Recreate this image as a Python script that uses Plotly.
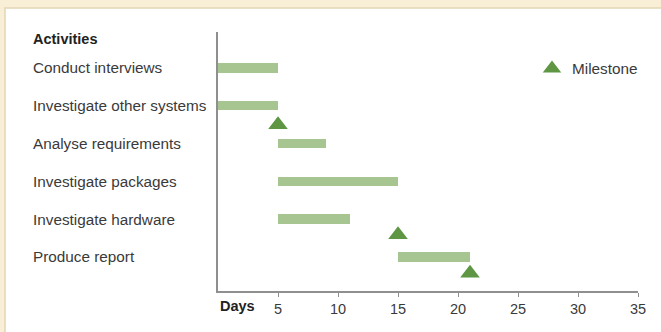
import plotly.graph_objects as go

activities = ["Conduct interviews", "Investigate other systems", "Analyse requirements",
              "Investigate packages", "Investigate hardware", "Produce report"]
start_day = [0, 0, 5, 5, 5, 15]
end_day = [5, 5, 9, 15, 11, 21]
duration = [e - s for s, e in zip(start_day, end_day)]
row_index = list(range(len(activities)))

milestone_day = [5, 15, 21]
milestone_row = [1.5, 4.41, 5.43]

x_tick_vals = [5, 10, 15, 20, 25, 30, 35]
x_tick_text = ["5", "10", "15", "20", "25", "30", "35"]

FONT = "Liberation Sans, Arial, Helvetica, sans-serif"
TXT = "#3a3a3a"
BAR = "#a6c590"
TRI = "#5e9644"

W, H = 661, 332
L, R, T, B = 218, 23, 32, 41
pw, ph = W - L - R, H - T - B

def px_to_paper_x(px):
    return (px - L) / pw

def px_to_paper_y(py):
    return (H - B - py) / ph

fig = go.Figure()
fig.add_trace(go.Bar(
    y=row_index, x=duration, base=start_day, orientation="h",
    width=0.25, marker=dict(color=BAR, line=dict(width=0)),
    showlegend=False, hoverinfo="skip"))
fig.add_trace(go.Scatter(
    x=milestone_day, y=milestone_row, mode="markers", name="Milestone",
    marker=dict(symbol="triangle-up", size=17, color=TRI, line=dict(width=0)),
    showlegend=True))

annotations = []
for i, name in enumerate(activities):
    annotations.append(dict(
        text=name, x=px_to_paper_x(31), xref="paper", xanchor="left",
        y=row_index[i], yref="y", yanchor="middle", showarrow=False,
        font=dict(family=FONT, size=15.3, color=TXT)))
annotations.append(dict(
    text="<b>Activities</b>", x=px_to_paper_x(31), xref="paper", xanchor="left",
    y=px_to_paper_y(39), yref="paper", yanchor="middle", showarrow=False,
    font=dict(family=FONT, size=14.5, color="#222222")))
annotations.append(dict(
    text="<b>Days</b>", x=px_to_paper_x(237), xref="paper", xanchor="center",
    y=px_to_paper_y(306), yref="paper", yanchor="middle", showarrow=False,
    font=dict(family=FONT, size=14.5, color="#222222")))

fig.update_layout(
    width=W, height=H,
    margin=dict(l=L, r=R, t=T, b=B, pad=0),
    paper_bgcolor="#f9efd6",
    plot_bgcolor="rgba(0,0,0,0)",
    font=dict(family=FONT, size=15, color=TXT),
    bargap=0,
    shapes=[dict(type="rect", xref="paper", yref="paper", layer="below",
                 x0=px_to_paper_x(5), x1=px_to_paper_x(700),
                 y0=px_to_paper_y(400), y1=px_to_paper_y(8),
                 fillcolor="white", line=dict(color="#e4d6b4", width=1.5))],
    annotations=annotations,
    legend=dict(x=px_to_paper_x(532), y=px_to_paper_y(52), xanchor="left", yanchor="top",
                bgcolor="rgba(0,0,0,0)", font=dict(family=FONT, size=15.3, color=TXT),
                itemwidth=30),
    xaxis=dict(range=[0, 35], tickvals=x_tick_vals, ticktext=x_tick_text,
               showgrid=False, zeroline=False, showline=True, linecolor="#8f8f8f",
               linewidth=1.5, ticks="outside", ticklen=4, tickcolor="#8f8f8f",
               tickwidth=1, tickfont=dict(family=FONT, size=14.5, color=TXT),
               fixedrange=True),
    yaxis=dict(range=[5.9, -0.95], showgrid=False, zeroline=False, showline=True,
               linecolor="#8f8f8f", linewidth=1.5, showticklabels=False, ticks="",
               fixedrange=True),
)

fig.write_html("out.html")
